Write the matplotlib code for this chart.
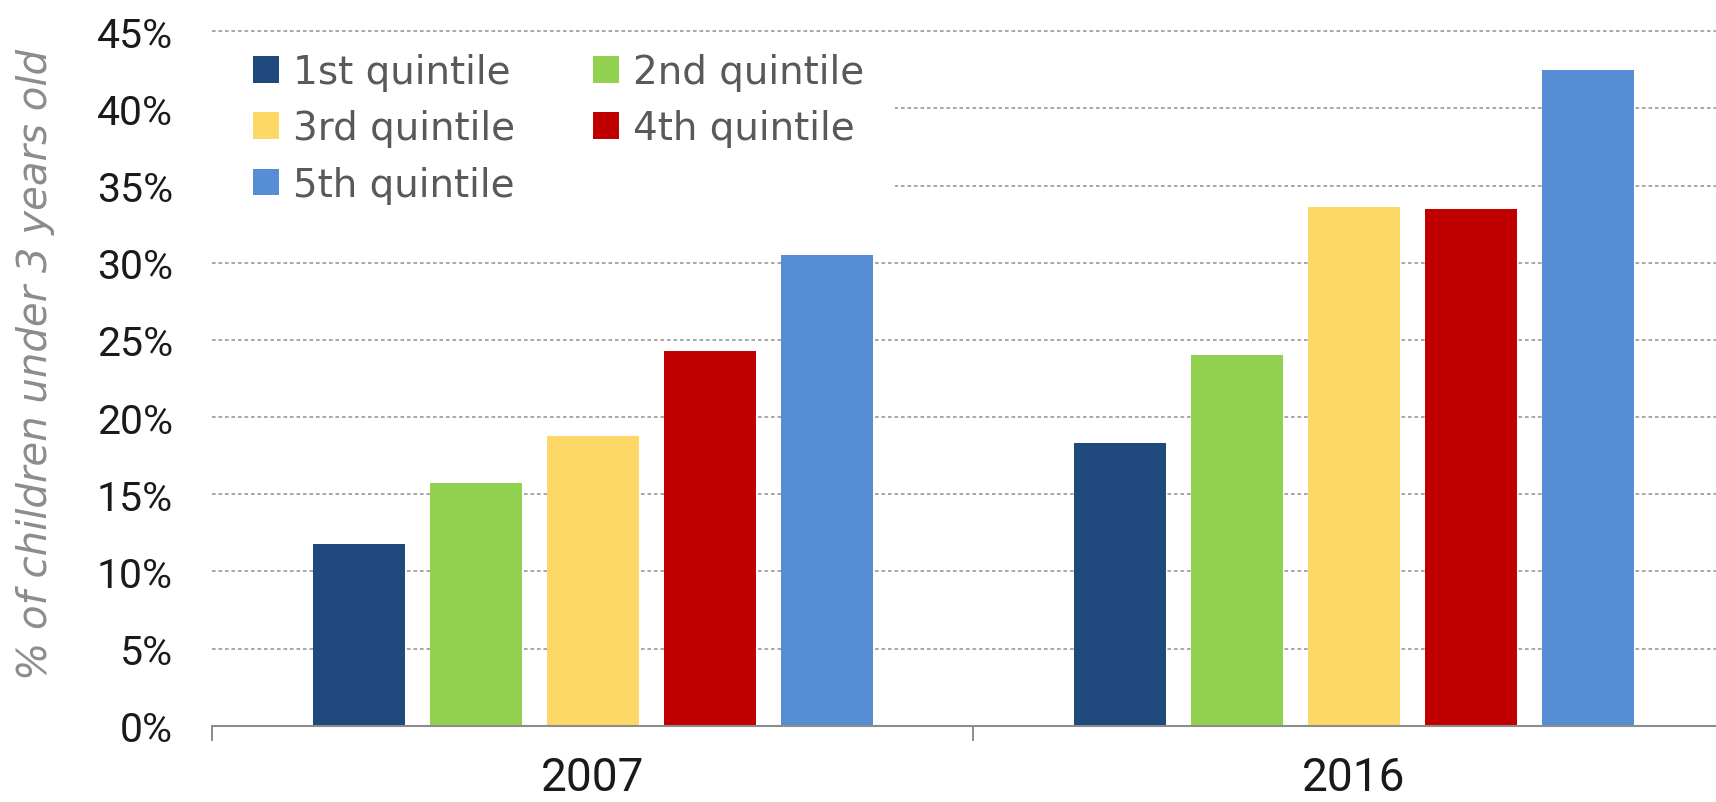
import matplotlib
matplotlib.use('Agg')
import matplotlib.pyplot as plt
from matplotlib.patches import Patch, Rectangle
import numpy as np

# data
years = ['2007', '2016']
quintiles = ['1st quintile', '2nd quintile', '3rd quintile', '4th quintile', '5th quintile']
q1 = [11.8, 18.3]
q2 = [15.7, 24.0]
q3 = [18.8, 33.6]
q4 = [24.3, 33.5]
q5 = [30.5, 42.5]
yticks = [0, 5, 10, 15, 20, 25, 30, 35, 40, 45]

series = [q1, q2, q3, q4, q5]
colors = ['#1F497D', '#92D050', '#FDD866', '#C00000', '#558ED5']

W, H = 1716, 803
fig = plt.figure(figsize=(W / 100, H / 100), dpi=100)

# axes runs past the right edge of the figure, like the cropped original
left_px, bottom_px, top_px = 211.7, 726.7, 32.3
cat_px = 761.6
ax = fig.add_axes([left_px / W, (H - bottom_px) / H,
                   2 * cat_px / W, (bottom_px - top_px) / H])
ax.set_axisbelow(True)

x = np.arange(len(years))
bar_w = 92 / cat_px
step = 117 / cat_px
for i, (vals, c) in enumerate(zip(series, colors)):
    ax.bar(x + (i - 2) * step, vals, bar_w, color=c, zorder=3, label=quintiles[i])

ax.set_xlim(-0.5, 1.5)
ax.set_ylim(0, 45)

# y axis
ax.set_yticks(yticks)
ax.set_yticklabels([f'{v}%' for v in yticks], fontfamily='Roboto', fontsize=29.5, color='#1a1a1a')
ax.tick_params(axis='y', length=0, pad=28)
ax.yaxis.grid(True, color='#a0a0a0', linestyle=(0, (2, 1.6)), linewidth=1.3)
for yl in ax.get_ygridlines():
    yl.set_clip_on(False)
ax.get_ygridlines()[0].set_visible(False)

# x axis: labels centred, ticks at category borders
ax.set_xticks(x)
ax.set_xticklabels(years, fontfamily='Roboto', fontsize=33, color='#1a1a1a')
ax.set_xticks([-0.5, 0.5, 1.5], minor=True)
ax.tick_params(axis='x', which='major', length=0, pad=21)
ax.tick_params(axis='x', which='minor', length=10.8, width=1.4, color='#8c8c8c')

for s in ['top', 'right', 'left']:
    ax.spines[s].set_visible(False)
ax.spines['bottom'].set_color('#8c8c8c')
ax.spines['bottom'].set_linewidth(1.5)
ax.spines['bottom'].set_zorder(4)

fig.text(36 / W, (H - 364) / H, '% of children under 3 years old', rotation=90,
         fontsize=29, fontstyle='italic', color='#8c8c8c', ha='center', va='center')

# white box behind the legend hides the gridlines there
ax.add_patch(Rectangle((200 / W, (H - 205) / H), 695 / W, 167 / H,
                       transform=fig.transFigure, facecolor='white',
                       edgecolor='none', zorder=1, clip_on=False))

# legend, row-major order in two columns
handles = [Patch(facecolor=c) for c in colors]
order = [0, 2, 4, 1, 3]
leg = fig.legend([handles[k] for k in order], [quintiles[k] for k in order],
                 ncol=2, frameon=False, loc='upper left',
                 bbox_to_anchor=(253 / W, (H - 54) / H),
                 fontsize=28, handlelength=0.67, handleheight=0.67,
                 handletextpad=0.36, columnspacing=2.0, labelspacing=0.47,
                 borderpad=0, borderaxespad=0)
for t in leg.get_texts():
    t.set_color('#595959')

fig.savefig('out.png', dpi=100)
